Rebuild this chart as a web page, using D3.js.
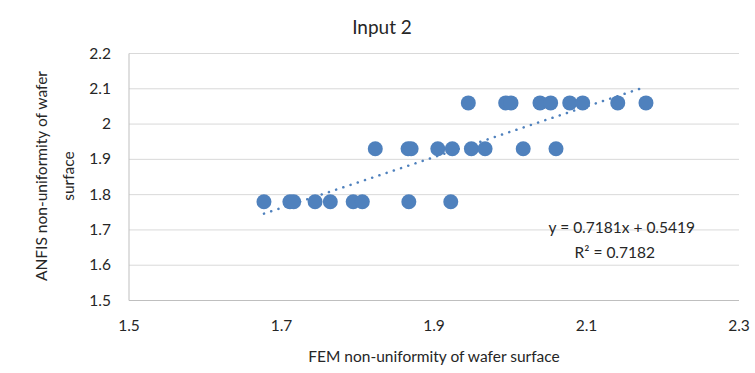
<!DOCTYPE html>
<html>
<head>
<meta charset="utf-8">
<script src="https://cdn.jsdelivr.net/npm/d3@7"></script>
<style>
body{margin:0;background:#fff;}
text{font-family:Lato,"Open Sans",sans-serif;fill:#262626;}
</style>
</head>
<body>
<svg width="755" height="373"></svg>
<script>
// data
let femX=[1.677,1.711,1.716,1.744,1.764,1.794,1.806,1.867,1.922,
  1.823,1.866,1.870,1.905,1.924,1.949,1.967,2.017,2.060,
  1.945,1.994,2.001,2.039,2.053,2.078,2.095,2.141,2.178]
let anfisY=[1.78,1.78,1.78,1.78,1.78,1.78,1.78,1.78,1.78,
  1.93,1.93,1.93,1.93,1.93,1.93,1.93,1.93,1.93,
  2.06,2.06,2.06,2.06,2.06,2.06,2.06,2.06,2.06]
let xTicks=[1.5,1.7,1.9,2.1,2.3]
let yTicks=[1.5,1.6,1.7,1.8,1.9,2,2.1,2.2]
let slope=0.7181, intercept=0.5419, r2=0.7182

let svg=d3.select('svg')
let x=d3.scaleLinear().domain([1.5,2.3]).range([129,739])
let y=d3.scaleLinear().domain([1.5,2.2]).range([300.5,53.5])

/*gridlines*/
svg.append('g').selectAll('line').data(yTicks).enter().append('line')
  .attr('x1',x(1.5)).attr('x2',x(2.3))
  .attr('y1',d=>y(d)).attr('y2',d=>y(d))
  .attr('stroke','#d9d9d9').attr('stroke-width',1)
svg.append('line').attr('x1',x(1.5)).attr('x2',x(1.5))
  .attr('y1',y(1.5)).attr('y2',y(2.2))
  .attr('stroke','#bfbfbf').attr('stroke-width',1)
svg.append('line').attr('x1',x(1.5)).attr('x2',x(2.3))
  .attr('y1',y(1.5)).attr('y2',y(1.5))
  .attr('stroke','#bfbfbf').attr('stroke-width',1)

/*axis labels*/
svg.append('g').selectAll('text').data(yTicks).enter().append('text')
  .attr('x',111).attr('y',d=>y(d)+5)
  .attr('text-anchor','end').attr('font-size',15.5)
  .text(d=>d3.format('')(d))
svg.append('g').selectAll('text').data(xTicks).enter().append('text')
  .attr('x',d=>x(d)).attr('y',331)
  .attr('text-anchor','middle').attr('font-size',15.5)
  .text(d=>d.toFixed(1))

/*trend line*/
let xs=d3.extent(femX)
svg.append('line')
  .attr('x1',x(xs[0])).attr('y1',y(slope*xs[0]+intercept))
  .attr('x2',x(xs[1])).attr('y2',y(slope*xs[1]+intercept))
  .attr('stroke','#4f81bd').attr('stroke-width',2.5)
  .attr('stroke-linecap','round').attr('stroke-dasharray','0.1 7.5')

/*points*/
svg.append('g').selectAll('circle').data(femX).enter().append('circle')
  .attr('cx',d=>x(d)).attr('cy',(d,i)=>y(anfisY[i]))
  .attr('r',7.5).attr('fill','#4f81bd')

/*equation*/
svg.append('text').attr('x',695).attr('y',233).attr('text-anchor','end')
  .attr('font-size',15.5).text('y = '+slope+'x + '+intercept)
svg.append('text').attr('x',655).attr('y',258).attr('text-anchor','end')
  .attr('font-size',15.5).text('R² = '+r2)

/*titles*/
svg.append('text').attr('x',382).attr('y',34).attr('text-anchor','middle')
  .attr('font-size',19).text('Input 2')
svg.append('text').attr('x',434).attr('y',362).attr('text-anchor','middle')
  .attr('font-size',15.5).text('FEM non-uniformity of wafer surface')
let yt=svg.append('text').attr('transform','translate(0,176) rotate(-90)')
  .attr('text-anchor','middle').attr('font-size',15.5)
yt.append('tspan').attr('x',0).attr('y',47).text('ANFIS non-uniformity of wafer')
yt.append('tspan').attr('x',0).attr('y',74).text('surface')
</script>
</body>
</html>
